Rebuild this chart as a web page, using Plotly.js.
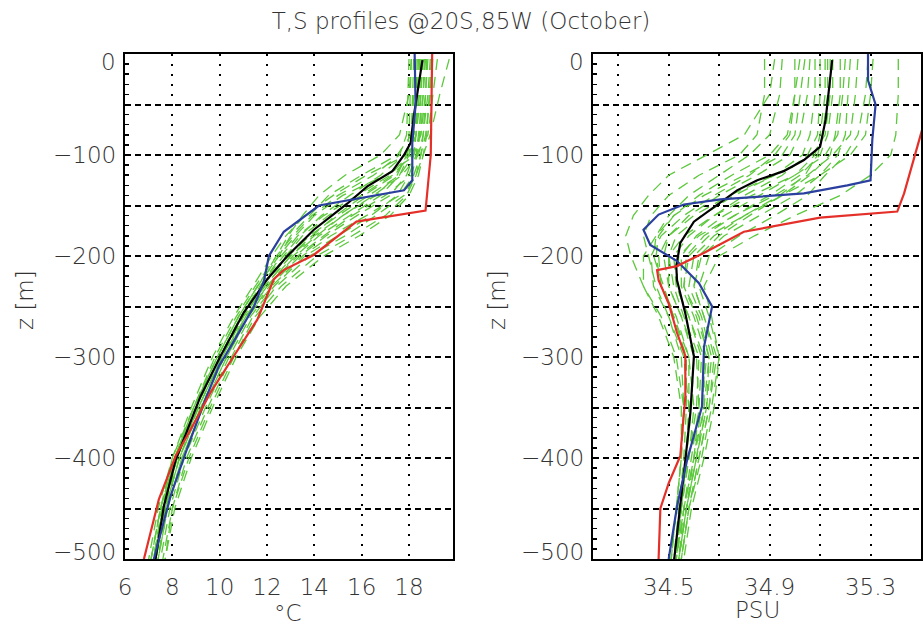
<!DOCTYPE html>
<html>
<head>
<meta charset="utf-8">
<script src="https://cdn.plot.ly/plotly-3.0.1.min.js"></script>
<style>html,body{margin:0;padding:0;background:#fff}#chart{width:923px;height:625px}</style>
</head>
<body>
<div id="chart"></div>
<script>
// ---------- DATA ----------
const chartTitle = "T,S profiles @20S,85W (October)";
const yTickVals = [0, -100, -200, -300, -400, -500];
const yTickText = ["0", "\u2212100", "\u2212200", "\u2212300", "\u2212400", "\u2212500"];
const tTickVals = [6, 8, 10, 12, 14, 16, 18];
const tTickText = ["6", "8", "10", "12", "14", "16", "18"];
const sTickVals = [34.3, 34.5, 34.7, 34.9, 35.1, 35.3];
const sTickText = ["", "34.5", "", "34.9", "", "35.3"];
const tUnit = "\u00B0C";
const sUnit = "PSU";
const zTitle = "z [m]";

// depth levels of the individual (green) profiles
const gZ = [-5, -40, -80, -100, -120, -140, -160, -180, -200, -230, -260, -300, -350, -400, -450, -500];

// individual temperature profiles (degC)
const gT01 = [18.0, 17.95, 17.9, 17.6, 16.5, 15.0, 13.9, 13.1, 12.4, 11.5, 10.7, 9.8, 8.9, 8.1, 7.5, 7.1];
const gT02 = [18.1, 18.05, 18.0, 17.9, 17.5, 16.6, 15.2, 14.0, 13.0, 11.9, 11.0, 10.1, 9.1, 8.3, 7.7, 7.3];
const gT03 = [18.3, 18.2, 18.1, 17.5, 16.0, 14.6, 13.8, 13.0, 12.5, 11.6, 10.8, 9.9, 8.9, 8.1, 7.6, 7.2];
const gT04 = [18.4, 18.35, 18.3, 18.2, 17.9, 17.2, 15.8, 14.5, 13.4, 12.1, 11.2, 10.3, 9.3, 8.4, 7.8, 7.4];
const gT05 = [18.5, 18.45, 18.2, 17.8, 16.8, 15.5, 14.3, 13.4, 12.7, 11.7, 10.9, 10.0, 9.0, 8.2, 7.6, 7.3];
const gT06 = [18.6, 18.5, 18.3, 18.0, 17.4, 16.1, 14.9, 13.9, 13.0, 11.9, 11.0, 10.1, 9.1, 8.2, 7.7, 7.3];
const gT07 = [18.7, 18.6, 18.4, 18.3, 18.0, 17.5, 16.4, 15.0, 13.6, 12.3, 11.3, 10.4, 9.4, 8.5, 7.9, 7.5];
const gT08 = [18.8, 18.7, 18.5, 18.1, 17.3, 16.0, 14.6, 13.5, 12.8, 11.8, 10.9, 10.0, 9.0, 8.1, 7.6, 7.2];
const gT09 = [18.9, 18.8, 18.6, 18.4, 17.7, 16.5, 15.2, 14.1, 13.1, 12.0, 11.1, 10.2, 9.2, 8.3, 7.7, 7.4];
const gT10 = [19.0, 18.9, 18.7, 18.5, 18.2, 17.6, 16.2, 14.7, 13.5, 12.2, 11.2, 10.3, 9.3, 8.4, 7.8, 7.4];
const gT11 = [19.2, 19.0, 18.8, 18.3, 17.0, 15.2, 14.0, 13.2, 12.5, 11.6, 10.8, 9.9, 8.9, 8.0, 7.5, 7.1];
const gT12 = [19.7, 19.3, 18.9, 18.6, 18.3, 17.8, 16.6, 15.3, 13.8, 12.4, 11.4, 10.5, 9.5, 8.6, 8.0, 7.6];
const gT13 = [18.2, 18.15, 18.1, 18.0, 17.6, 16.8, 15.5, 14.2, 13.2, 12.0, 11.1, 10.2, 9.2, 8.3, 7.7, 7.3];
const gT14 = [18.45, 18.4, 18.3, 18.0, 17.2, 15.8, 14.4, 13.3, 12.6, 11.7, 10.9, 10.0, 9.0, 8.1, 7.55, 7.2];
const gT15 = [18.75, 18.7, 18.6, 18.5, 18.3, 17.9, 17.0, 15.6, 14.1, 12.6, 11.5, 10.6, 9.6, 8.7, 8.0, 7.7];
const gT16 = [18.35, 18.3, 18.2, 17.9, 16.2, 14.8, 13.6, 12.8, 12.2, 11.4, 10.6, 9.7, 8.8, 8.0, 7.4, 7.0];
const gT17 = [18.1, 18.0, 17.6, 16.8, 15.3, 14.2, 13.5, 12.9, 12.4, 11.6, 10.8, 9.9, 8.9, 8.1, 7.5, 7.1];
const gT18 = [18.55, 18.5, 18.45, 18.35, 18.1, 17.0, 15.6, 14.4, 13.3, 12.0, 11.1, 10.1, 9.1, 8.2, 7.6, 7.3];
const gT19 = [18.65, 18.6, 18.5, 18.2, 17.6, 16.3, 15.0, 13.8, 12.9, 11.8, 10.9, 10.0, 9.0, 8.2, 7.6, 7.25];
const gT20 = [18.95, 18.85, 18.75, 18.6, 18.4, 18.0, 17.2, 15.9, 14.4, 12.8, 11.7, 10.7, 9.7, 8.8, 8.1, 7.7];

// individual salinity profiles (PSU)
const gS01 = [34.88, 34.88, 34.85, 34.78, 34.62, 34.50, 34.43, 34.40, 34.42, 34.45, 34.50, 34.55, 34.56, 34.55, 34.53, 34.51];
const gS02 = [34.95, 34.94, 34.90, 34.82, 34.70, 34.58, 34.50, 34.45, 34.44, 34.48, 34.52, 34.57, 34.57, 34.56, 34.54, 34.52];
const gS03 = [35.02, 35.00, 34.97, 34.90, 34.75, 34.62, 34.52, 34.46, 34.45, 34.47, 34.53, 34.58, 34.58, 34.57, 34.55, 34.52];
const gS04 = [35.06, 35.05, 35.02, 34.98, 34.85, 34.70, 34.58, 34.50, 34.48, 34.50, 34.55, 34.60, 34.59, 34.57, 34.55, 34.53];
const gS05 = [35.08, 35.08, 35.06, 35.03, 34.92, 34.76, 34.63, 34.53, 34.50, 34.52, 34.56, 34.62, 34.61, 34.58, 34.55, 34.53];
const gS06 = [35.10, 35.10, 35.09, 35.05, 34.95, 34.80, 34.68, 34.58, 34.52, 34.53, 34.58, 34.63, 34.62, 34.59, 34.56, 34.53];
const gS07 = [35.12, 35.12, 35.10, 35.08, 35.00, 34.86, 34.72, 34.61, 34.55, 34.55, 34.60, 34.65, 34.63, 34.60, 34.56, 34.54];
const gS08 = [35.15, 35.15, 35.13, 35.10, 35.02, 34.90, 34.76, 34.64, 34.57, 34.56, 34.62, 34.66, 34.64, 34.60, 34.57, 34.54];
const gS09 = [35.18, 35.18, 35.16, 35.14, 35.06, 34.95, 34.80, 34.68, 34.60, 34.58, 34.63, 34.67, 34.65, 34.61, 34.57, 34.54];
const gS10 = [35.22, 35.21, 35.20, 35.17, 35.10, 35.00, 34.86, 34.72, 34.63, 34.60, 34.64, 34.68, 34.66, 34.62, 34.58, 34.55];
const gS11 = [35.29, 35.28, 35.25, 35.20, 35.12, 35.05, 34.92, 34.78, 34.66, 34.62, 34.66, 34.70, 34.67, 34.63, 34.58, 34.55];
const gS12 = [35.41, 35.41, 35.40, 35.38, 35.30, 35.18, 35.00, 34.84, 34.70, 34.64, 34.67, 34.70, 34.68, 34.64, 34.59, 34.56];
const gS13 = [35.04, 35.02, 35.00, 34.95, 34.80, 34.64, 34.52, 34.45, 34.40, 34.40, 34.46, 34.52, 34.55, 34.55, 34.53, 34.51];
const gS14 = [35.14, 35.14, 35.12, 35.07, 34.92, 34.74, 34.60, 34.50, 34.46, 34.47, 34.52, 34.58, 34.60, 34.58, 34.55, 34.53];
const gS15 = [35.20, 35.19, 35.17, 35.12, 35.00, 34.83, 34.68, 34.56, 34.50, 34.50, 34.55, 34.61, 34.62, 34.60, 34.56, 34.53];
const gS16 = [35.25, 35.24, 35.22, 35.15, 35.05, 34.92, 34.76, 34.62, 34.54, 34.53, 34.58, 34.64, 34.64, 34.61, 34.57, 34.54];
const gS17 = [34.92, 34.90, 34.80, 34.65, 34.50, 34.42, 34.36, 34.33, 34.35, 34.40, 34.47, 34.53, 34.56, 34.55, 34.53, 34.51];
const gS18 = [35.31, 35.30, 35.28, 35.22, 35.10, 34.95, 34.82, 34.70, 34.62, 34.60, 34.64, 34.69, 34.66, 34.62, 34.58, 34.55];
const gS19 = [35.00, 35.00, 34.98, 34.92, 34.82, 34.68, 34.56, 34.47, 34.43, 34.44, 34.50, 34.56, 34.58, 34.57, 34.55, 34.52];
const gS20 = [35.13, 35.13, 35.11, 35.09, 35.04, 34.94, 34.80, 34.66, 34.58, 34.56, 34.61, 34.66, 34.65, 34.61, 34.57, 34.54];

// mean temperature profile (black)
const tMeanZ = [-6, -36, -62, -88, -100, -116, -131, -148, -174, -200, -223, -256, -299, -339, -369, -402, -448, -500];
const tMeanV = [18.57, 18.36, 18.2, 18.07, 17.79, 17.3, 16.24, 15.4, 13.98, 12.86, 12.01, 11.02, 10.04, 9.19, 8.7, 8.14, 7.64, 7.29];
// blue temperature profile
const tBlueZ = [0, -50, -88, -125, -135, -150, -176, -200, -225, -250, -290, -309, -346, -395, -438, -500];
const tBlueV = [18.24, 18.28, 18.14, 18.14, 17.79, 14.2, 12.71, 12.08, 11.87, 11.45, 10.46, 9.97, 9.33, 8.56, 7.92, 7.22];
// red temperature profile
const tRedZ = [0, -100, -155, -166, -199, -214, -223, -263, -299, -335, -375, -398, -441, -481, -500];
const tRedV = [18.98, 18.92, 18.7, 15.78, 13.97, 12.7, 12.29, 11.59, 10.6, 9.62, 8.7, 8.14, 7.43, 7.0, 6.8];

// mean salinity profile (black)
const sMeanZ = [-6, -36, -65, -92, -105, -116, -125, -135, -148, -166, -187, -210, -224, -257, -299, -355, -402, -448, -500];
const sMeanV = [35.148, 35.135, 35.122, 35.10, 35.036, 34.956, 34.851, 34.771, 34.698, 34.60, 34.546, 34.53, 34.533, 34.566, 34.60, 34.586, 34.566, 34.546, 34.522];
// blue salinity profile
const sBlueZ = [0, -26, -50, -85, -125, -130, -138, -144, -149, -159, -174, -189, -205, -227, -250, -290, -349, -372, -402, -448, -500];
const sBlueV = [35.29, 35.29, 35.32, 35.307, 35.30, 35.208, 35.036, 34.705, 34.56, 34.46, 34.40, 34.427, 34.533, 34.62, 34.672, 34.64, 34.632, 34.606, 34.573, 34.533, 34.50];
// red salinity profile
const sRedZ = [0, -70, -138, -156, -162, -176, -197, -210, -214, -224, -247, -276, -299, -339, -398, -425, -450, -500];
const sRedV = [35.53, 35.51, 35.433, 35.406, 35.10, 34.798, 34.639, 34.533, 34.454, 34.46, 34.50, 34.533, 34.566, 34.566, 34.546, 34.50, 34.467, 34.46];

// ---------- DRAW ----------
const gT = [gT01, gT02, gT03, gT04, gT05, gT06, gT07, gT08, gT09, gT10, gT11, gT12, gT13, gT14, gT15, gT16, gT17, gT18, gT19, gT20];
const gS = [gS01, gS02, gS03, gS04, gS05, gS06, gS07, gS08, gS09, gS10, gS11, gS12, gS13, gS14, gS15, gS16, gS17, gS18, gS19, gS20];
const green = "#5cc83c";
const traces = [];
gT.forEach(p => traces.push({x: p, y: gZ, xaxis: "x", yaxis: "y", mode: "lines",
  line: {color: green, width: 1.3, dash: "11px,7px"}, hoverinfo: "skip"}));
gS.forEach(p => traces.push({x: p, y: gZ, xaxis: "x2", yaxis: "y2", mode: "lines",
  line: {color: green, width: 1.3, dash: "11px,7px"}, hoverinfo: "skip"}));
function solid(x, y, c, ax) {
  traces.push({x: x, y: y, xaxis: ax[0], yaxis: ax[1], mode: "lines", line: {color: c, width: 2.2}});
}
solid(tMeanV, tMeanZ, "#000000", ["x", "y"]);
solid(tBlueV, tBlueZ, "#2b3f9e", ["x", "y"]);
solid(tRedV, tRedZ, "#e5302a", ["x", "y"]);
solid(sMeanV, sMeanZ, "#000000", ["x2", "y2"]);
solid(sBlueV, sBlueZ, "#2b3f9e", ["x2", "y2"]);
solid(sRedV, sRedZ, "#e5302a", ["x2", "y2"]);

const font = {family: "'DejaVu Sans', sans-serif", color: "#333", size: 23, weight: 200};
const W = 923, H = 625;
function xax(dom, range, vals, text) {
  return {domain: dom, range: range, tickmode: "array", tickvals: vals, ticktext: text,
    showgrid: true, gridcolor: "#000", gridwidth: 2, griddash: "2px,8px",
    showline: true, linecolor: "#000", linewidth: 2, mirror: true, ticks: "", zeroline: false,
    tickfont: font, ticklabelstandoff: 6, fixedrange: true};
}
function yax(anchor) {
  return {domain: [1 - 559 / H, 1 - 54 / H], range: [-500, 0], anchor: anchor,
    tickmode: "linear", tick0: 0, dtick: 50, showticklabels: false,
    showgrid: true, gridcolor: "#000", gridwidth: 2, griddash: "6px,4px",
    showline: true, linecolor: "#000", linewidth: 2, mirror: true,
    ticks: "inside", ticklen: 4, tickcolor: "#000", tickwidth: 1.5,
    minor: {dtick: 10, ticks: "inside", ticklen: 4, tickcolor: "#000", tickwidth: 1.5, showgrid: false},
    zeroline: false, fixedrange: true};
}
const annotations = [];
[125 / W, 593 / W].forEach((px, k) => {
  yTickVals.forEach((v, i) => {
    annotations.push({xref: "paper", yref: k === 0 ? "y" : "y2", x: px, y: v, xanchor: "right",
      yanchor: "middle", xshift: -7, yshift: i === 0 ? -8 : (i === yTickVals.length - 1 ? 7 : 0),
      text: yTickText[i], showarrow: false, font: font});
  });
  annotations.push({xref: "paper", yref: "paper", x: (k === 0 ? 25 : 497) / W, y: 1 - 300 / H,
    text: zTitle, textangle: -90, showarrow: false, font: font, xanchor: "center", yanchor: "middle"});
});
annotations.push({xref: "paper", yref: "paper", x: 288 / W, y: 1 - 613 / H, text: tUnit,
  showarrow: false, font: font, xanchor: "center", yanchor: "middle"});
annotations.push({xref: "paper", yref: "paper", x: 757 / W, y: 1 - 610 / H, text: sUnit,
  showarrow: false, font: font, xanchor: "center", yanchor: "middle"});

const layout = {
  width: W, height: H, margin: {l: 0, r: 0, t: 0, b: 0},
  paper_bgcolor: "#fff", plot_bgcolor: "#fff", showlegend: false,
  title: {text: chartTitle, font: {family: font.family, color: "#333", size: 23, weight: 200},
    x: 461 / W, xanchor: "center", y: 1 - 21 / H, yanchor: "middle"},
  xaxis: xax([125 / W, 453 / W], [6, 19.86], tTickVals, tTickText),
  xaxis2: xax([593 / W, 921 / W], [34.2, 35.5], sTickVals, sTickText),
  yaxis: yax("x"),
  yaxis2: yax("x2"),
  annotations: annotations
};
layout.xaxis.anchor = "y";
layout.xaxis2.anchor = "y2";
Plotly.newPlot("chart", traces, layout, {staticPlot: true});
</script>
</body>
</html>
